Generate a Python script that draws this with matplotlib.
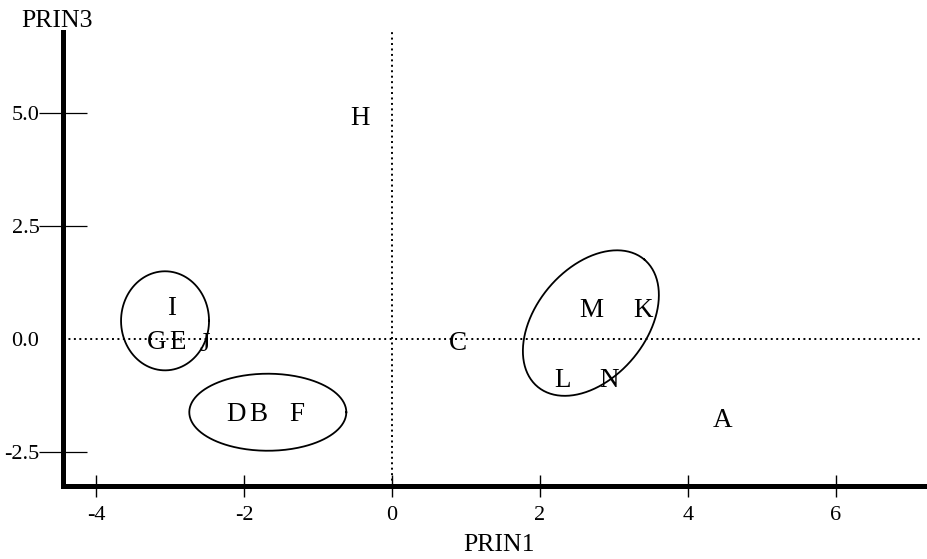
import numpy as np
import matplotlib.pyplot as plt

plt.rcParams['font.family'] = ['Liberation Serif', 'DejaVu Serif']

# component scores (PRIN1, PRIN3) for each sample
names = ['A', 'B', 'C', 'D', 'E', 'F', 'G', 'H', 'I', 'J', 'K', 'L', 'M', 'N']
prin1 = [4.47, -1.81, 0.89, -2.11, -2.90, -1.29, -3.18, -0.43, -2.98, -2.53, 3.40, 2.31, 2.69, 2.94]
prin3 = [-1.81, -1.68, -0.11, -1.68, -0.09, -1.68, -0.09, 4.88, 0.68, -0.13, 0.62, -0.91, 0.62, -0.91]

# groups circled on the plot: centre, semi-axes (in PRIN1 units), tilt in degrees
group_centres = [(-3.07, 0.40), (-1.68, -1.62), (2.69, 0.35)]
group_axes = [(0.595, 0.67), (1.062, 0.521), (1.123, 0.744)]
group_tilt = [0, 0, 50]

xticks = [-4, -2, 0, 2, 4, 6]
yticks = [-2.5, 0.0, 2.5, 5.0]
xlim = (-4.45, 7.25)
ylim = (-3.25, 6.78)

fig = plt.figure(figsize=(9.28, 5.59), dpi=100)
ax = fig.add_axes([0.0679, 0.1306, 1 - 0.0679, 0.812])
ax.set_xlim(*xlim)
ax.set_ylim(*ylim)

for side in ['top', 'right']:
    ax.spines[side].set_visible(False)
for side in ['left', 'bottom']:
    ax.spines[side].set_linewidth(3.6)

# reference lines through the origin
ax.plot([xlim[0], 7.14], [0, 0], color='black', lw=1.4, ls=(0, (1, 1.8)))
ax.plot([0, 0], [ylim[0], ylim[1]], color='black', lw=1.4, ls=(0, (1, 1.8)))

for n, x, y in zip(names, prin1, prin3):
    ax.text(x, y, n, fontsize=19.5, ha='center', va='center')

# ellipses drawn so the tilt looks right on screen
w_px = fig.get_figwidth() * fig.dpi * ax.get_position().width
h_px = fig.get_figheight() * fig.dpi * ax.get_position().height
ratio = (w_px / (xlim[1] - xlim[0])) / (h_px / (ylim[1] - ylim[0]))
t = np.linspace(0, 2 * np.pi, 300)
for (cx, cy), (a, b), ang in zip(group_centres, group_axes, group_tilt):
    th = np.radians(ang)
    u = a * np.cos(t)
    v = b * np.sin(t)
    ex = cx + u * np.cos(th) - v * np.sin(th)
    ey = cy + (u * np.sin(th) + v * np.cos(th)) * ratio
    ax.plot(ex, ey, color='black', lw=1.3)

ax.set_xticks(xticks)
ax.set_xticklabels([str(v) for v in xticks])
ax.set_yticks(yticks)
ax.set_yticklabels(['%.1f' % v for v in yticks])
ax.tick_params(axis='x', direction='inout', length=16.5, width=1.0, pad=6, labelsize=16)
ax.tick_params(axis='y', direction='inout', length=34, width=0.9, pad=0, labelsize=16)
ax.yaxis.get_major_ticks()[1].tick1line.set_visible(False)

fig.text(499 / 928, 1 - 545 / 559, 'PRIN1', fontsize=18.5, ha='center', va='center')
fig.text(57 / 928, 1 - 21 / 559, 'PRIN3', fontsize=18.5, ha='center', va='center')

fig.savefig('out.png', dpi=100)
